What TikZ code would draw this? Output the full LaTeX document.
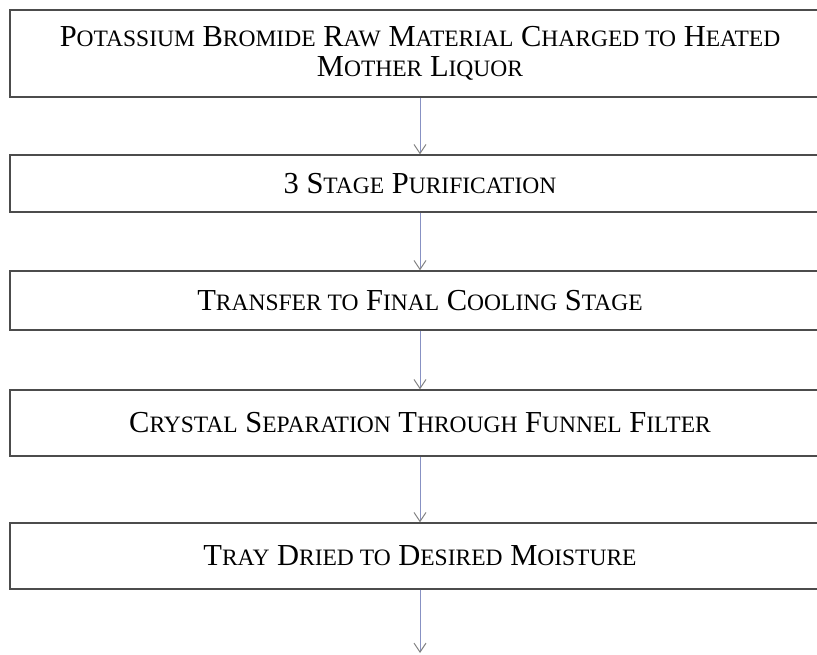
\documentclass[tikz,border=0pt]{standalone}
\usepackage{fontspec}
\setmainfont{Liberation Serif}
\usetikzlibrary{arrows.meta,positioning}
\newcommand\lc[1]{{\fontsize{23.5}{30}\selectfont #1}}

\begin{document}
\begin{tikzpicture}[
  x=1pt, y=-1pt,
  stepbox/.style={draw=black!70, line width=1.3pt, minimum width=820pt,
    inner sep=0pt, align=center, font=\fontsize{30.5}{30}\selectfont},
  arrow/.style={-{Straight Barb[length=9pt,width=12pt,line width=1pt,color=black!50]},
    line width=1pt, draw={rgb,255:red,135;green,145;blue,195}}
]
\useasboundingbox (0,0) rectangle (817,655);

% process steps
\node[stepbox, minimum height=87pt] (raw) at (420,53.5)
  {P\lc{OTASSIUM} B\lc{ROMIDE} R\lc{AW} M\lc{ATERIAL} C\lc{HARGED TO} H\lc{EATED}\\
   M\lc{OTHER} L\lc{IQUOR}};
\node[stepbox, minimum height=57pt] (purify) at (420,183.5)
  {3 S\lc{TAGE} P\lc{URIFICATION}};
\node[stepbox, minimum height=59pt] (cool) at (420,300.5)
  {T\lc{RANSFER TO} F\lc{INAL} C\lc{OOLING} S\lc{TAGE}};
\node[stepbox, minimum height=66pt] (filter) at (420,423)
  {C\lc{RYSTAL} S\lc{EPARATION} T\lc{HROUGH} F\lc{UNNEL} F\lc{ILTER}};
\node[stepbox, minimum height=66pt] (dry) at (420,556)
  {T\lc{RAY} D\lc{RIED TO} D\lc{ESIRED} M\lc{OISTURE}};
\coordinate (out) at (420,653);

% connectors
\draw[arrow] (raw) -- (purify);
\draw[arrow] (purify) -- (cool);
\draw[arrow] (cool) -- (filter);
\draw[arrow] (filter) -- (dry);
\draw[arrow] (dry) -- (out);
\end{tikzpicture}
\end{document}
